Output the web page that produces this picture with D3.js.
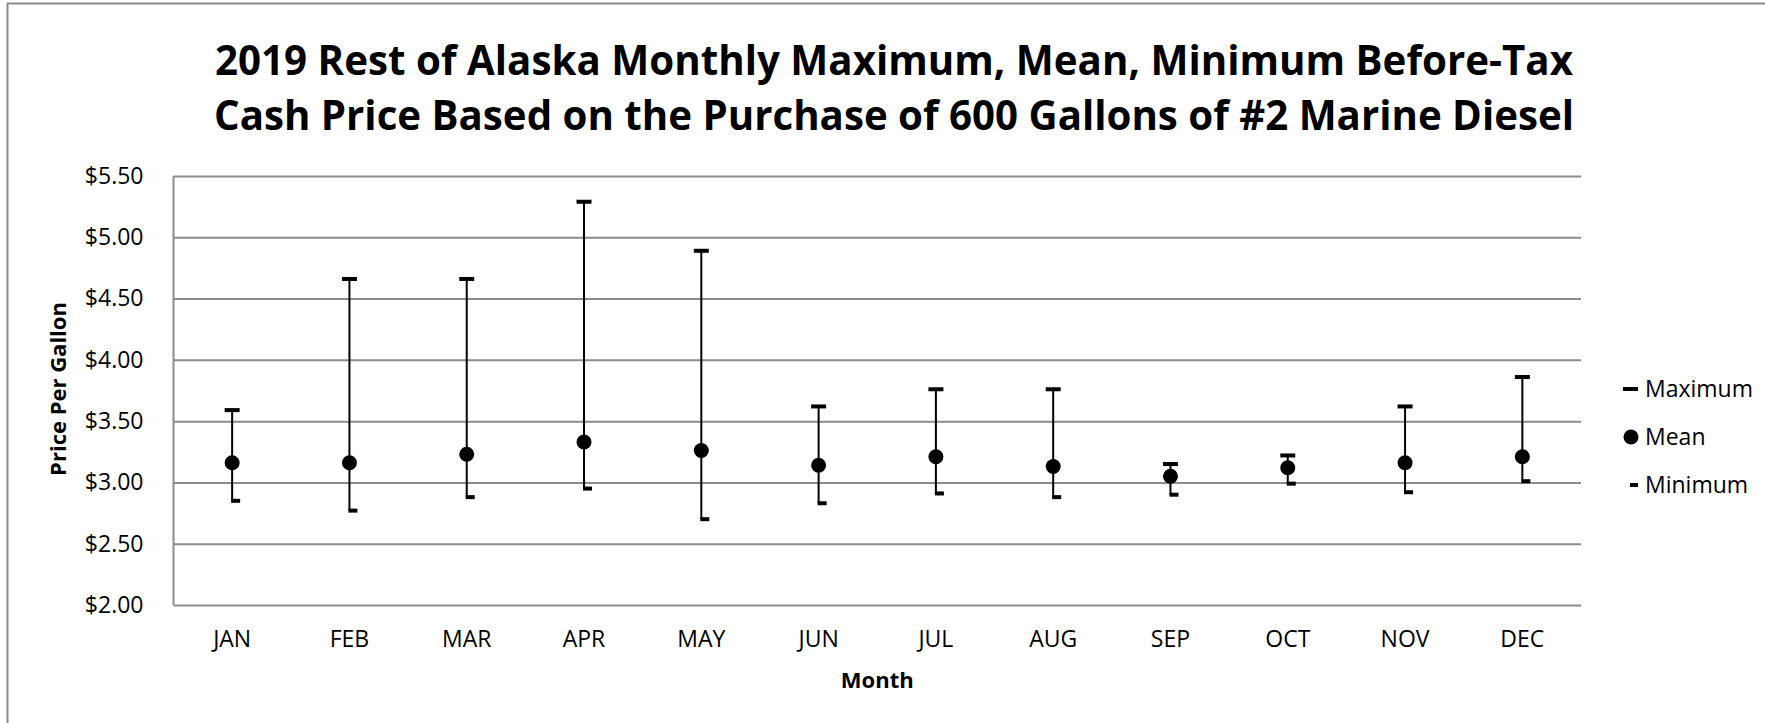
<!DOCTYPE html>
<html>
<head>
<meta charset="utf-8">
<script src="https://cdn.jsdelivr.net/npm/d3@7"></script>
<style>
body { margin: 0; background: #fff; }
text { font-family: "Open Sans", sans-serif; fill: #000; }
.grid line { stroke: #8c8c8c; stroke-width: 2; }
.grid path { display: none; }
.xaxis path, .xaxis line { display: none; }
</style>
</head>
<body>
<div class="chart_div"></div>
<script>
var months = ["JAN","FEB","MAR","APR","MAY","JUN","JUL","AUG","SEP","OCT","NOV","DEC"];
var maxVals = [3.59, 4.66, 4.66, 5.29, 4.89, 3.62, 3.76, 3.76, 3.15, 3.22, 3.62, 3.86];
var meanVals = [3.16, 3.16, 3.23, 3.33, 3.26, 3.14, 3.21, 3.13, 3.05, 3.12, 3.16, 3.21];
var minVals = [2.85, 2.77, 2.88, 2.95, 2.70, 2.83, 2.91, 2.88, 2.90, 2.99, 2.92, 3.01];
var yTicks = [2.00, 2.50, 3.00, 3.50, 4.00, 4.50, 5.00, 5.50];
var legendItems = ["Maximum","Mean","Minimum"];
var titleLines = ["2019 Rest of Alaska Monthly Maximum, Mean, Minimum Before-Tax",
                  "Cash Price Based on the Purchase of 600 Gallons of #2 Marine Diesel"];

var W = 1765, H = 723;
var plotL = 173.5, plotR = 1581, plotT = 176, plotB = 605;

var svg = d3.select(".chart_div").append("svg")
            .attr("width", W)
            .attr("height", H);

// outer chart border (right and bottom run off the picture)
svg.append("rect")
   .attr("x", 7.5).attr("y", 3.5)
   .attr("width", W + 10).attr("height", H + 10)
   .attr("fill", "none")
   .attr("stroke", "#898989")
   .attr("stroke-width", 2);

var x = d3.scaleBand().domain(months).range([plotL, plotR]).padding(0);
var y = d3.scaleLinear().domain([2, 5.5]).range([plotB, plotT]);

// title
svg.selectAll(".title")
   .data(titleLines)
   .enter()
   .append("text")
   .attr("class", "title")
   .attr("x", 894)
   .attr("y", function(d, i){ return 75 + i * 55; })
   .attr("text-anchor", "middle")
   .attr("textLength", function(d, i){ return i == 0 ? 1358 : 1360; })
   .attr("lengthAdjust", "spacingAndGlyphs")
   .style("font-size", "42px")
   .style("font-weight", "bold")
   .text(function(d){ return d; });

// gridlines + y labels
var yAxis = svg.append("g")
   .attr("class", "grid")
   .attr("transform", "translate(" + plotL + ",0)")
   .call(d3.axisLeft(y)
      .tickValues(yTicks)
      .tickSize(-(plotR - plotL))
      .tickPadding(30)
      .tickFormat(d3.format("$.2f")));
yAxis.selectAll("text").style("font-size", "23px").attr("fill", "#000");

// left axis line
svg.append("line")
   .attr("x1", plotL).attr("x2", plotL)
   .attr("y1", plotT).attr("y2", plotB)
   .attr("stroke", "#8c8c8c")
   .attr("stroke-width", 2);

// x labels
var xAxis = svg.append("g")
   .attr("class", "xaxis")
   .attr("transform", "translate(0," + plotB + ")")
   .call(d3.axisBottom(x).tickSize(0).tickPadding(26));
xAxis.selectAll("text").style("font-size", "23px").attr("fill", "#000");

// axis titles
svg.append("text")
   .attr("x", (plotL + plotR) / 2)
   .attr("y", 688)
   .attr("text-anchor", "middle")
   .style("font-size", "22px")
   .style("font-weight", "bold")
   .text("Month");

svg.append("text")
   .attr("transform", "translate(66," + 389 + ") rotate(-90)")
   .attr("text-anchor", "middle")
   .style("font-size", "22px")
   .style("font-weight", "bold")
   .text("Price Per Gallon");

// data
var cx = function(i){ return x(months[i]) + x.bandwidth() / 2; };

var marks = svg.append("g");

marks.selectAll(".range")
     .data(months)
     .enter()
     .append("line")
     .attr("x1", function(d, i){ return cx(i); })
     .attr("x2", function(d, i){ return cx(i); })
     .attr("y1", function(d, i){ return y(maxVals[i]); })
     .attr("y2", function(d, i){ return y(minVals[i]); })
     .attr("stroke", "#000")
     .attr("stroke-width", 2);

marks.selectAll(".maxcap")
     .data(maxVals)
     .enter()
     .append("rect")
     .attr("x", function(d, i){ return cx(i) - 7.5; })
     .attr("y", function(d){ return y(d) - 2; })
     .attr("width", 15)
     .attr("height", 4)
     .attr("fill", "#000");

marks.selectAll(".mincap")
     .data(minVals)
     .enter()
     .append("rect")
     .attr("x", function(d, i){ return cx(i) - 1; })
     .attr("y", function(d){ return y(d) - 2; })
     .attr("width", 9)
     .attr("height", 4)
     .attr("fill", "#000");

marks.selectAll("circle")
     .data(meanVals)
     .enter()
     .append("circle")
     .attr("cx", function(d, i){ return cx(i); })
     .attr("cy", function(d){ return y(d); })
     .attr("r", 7.5)
     .attr("fill", "#000");

// legend
var legend = svg.append("g");
legendItems.forEach(function(name, i){
    var ly = 389 + i * 48;
    if(i == 0){
        legend.append("rect").attr("x", 1623).attr("y", ly - 2).attr("width", 15).attr("height", 4).attr("fill", "#000");
    } else if(i == 1){
        legend.append("circle").attr("cx", 1631).attr("cy", ly).attr("r", 7.5).attr("fill", "#000");
    } else {
        legend.append("rect").attr("x", 1630).attr("y", ly - 2).attr("width", 8).attr("height", 4).attr("fill", "#000");
    }
    legend.append("text")
          .attr("x", 1645)
          .attr("y", ly)
          .attr("dy", "0.35em")
          .style("font-size", "23px")
          .text(name);
});
</script>
</body>
</html>
